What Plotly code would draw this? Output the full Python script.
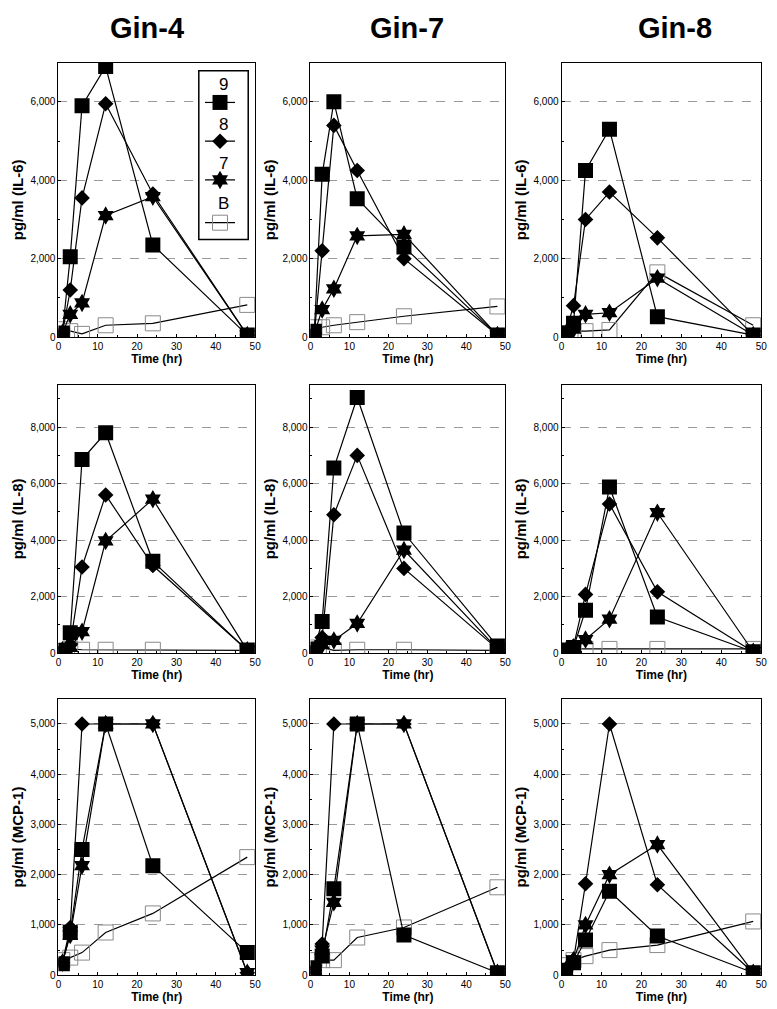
import plotly.graph_objects as go

# ---------------- data ----------------
times = [1, 3, 6, 12, 24, 48]
series_names = ["9", "8", "7", "B"]
gin_titles = ["Gin-4", "Gin-7", "Gin-8"]
row_titles = ["pg/ml (IL-6)", "pg/ml (IL-8)", "pg/ml (MCP-1)"]
x_ticks = [0, 10, 20, 30, 40, 50]

# IL-6
gin4_il6_9 = [100, 2050, 5900, 6900, 2350, 50]
gin4_il6_8 = [100, 1200, 3550, 5950, 3650, 50]
gin4_il6_7 = [100, 580, 870, 3100, 3580, 50]
gin4_il6_B = [200, 150, 80, 300, 350, 820]

gin7_il6_9 = [150, 4150, 6000, 3530, 2300, 50]
gin7_il6_8 = [100, 2200, 5400, 4250, 2000, 50]
gin7_il6_7 = [100, 700, 1230, 2580, 2620, 50]
gin7_il6_B = [250, 250, 300, 380, 530, 780]

gin8_il6_9 = [100, 350, 4250, 5300, 520, 50]
gin8_il6_8 = [100, 800, 3000, 3700, 2530, 50]
gin8_il6_7 = [50, 200, 580, 620, 1500, 50]
gin8_il6_B = [100, 150, 150, 180, 1650, 300]

# IL-8
gin4_il8_9 = [100, 720, 6850, 7800, 3250, 100]
gin4_il8_8 = [100, 300, 3050, 5600, 3100, 100]
gin4_il8_7 = [100, 200, 760, 3970, 5450, 100]
gin4_il8_B = [80, 150, 120, 120, 120, 100]

gin7_il8_9 = [150, 1120, 6550, 9050, 4250, 250]
gin7_il8_8 = [150, 550, 4900, 7000, 3000, 150]
gin7_il8_7 = [100, 300, 450, 1050, 3650, 150]
gin7_il8_B = [200, 200, 100, 120, 120, 100]

gin8_il8_9 = [100, 200, 1520, 5880, 1280, 50]
gin8_il8_8 = [100, 250, 2080, 5280, 2170, 50]
gin8_il8_7 = [50, 150, 480, 1200, 4970, 50]
gin8_il8_B = [100, 150, 150, 150, 150, 150]

# MCP-1
gin4_mcp_9 = [230, 850, 2500, 5000, 2180, 450]
gin4_mcp_8 = [250, 950, 5000, 5000, 5000, 50]
gin4_mcp_7 = [250, 800, 2180, 5000, 5000, 50]
gin4_mcp_B = [300, 350, 450, 850, 1230, 2350]

gin7_mcp_9 = [150, 380, 1720, 5000, 800, 50]
gin7_mcp_8 = [100, 620, 5000, 5000, 5000, 50]
gin7_mcp_7 = [100, 500, 1450, 5000, 5000, 50]
gin7_mcp_B = [300, 300, 300, 750, 950, 1750]

gin8_mcp_9 = [100, 250, 700, 1670, 780, 50]
gin8_mcp_8 = [100, 300, 1820, 5000, 1800, 50]
gin8_mcp_7 = [100, 300, 1000, 2000, 2600, 50]
gin8_mcp_B = [200, 300, 380, 500, 600, 1070]

panels = [
    [[gin4_il6_9, gin4_il6_8, gin4_il6_7, gin4_il6_B],
     [gin7_il6_9, gin7_il6_8, gin7_il6_7, gin7_il6_B],
     [gin8_il6_9, gin8_il6_8, gin8_il6_7, gin8_il6_B]],
    [[gin4_il8_9, gin4_il8_8, gin4_il8_7, gin4_il8_B],
     [gin7_il8_9, gin7_il8_8, gin7_il8_7, gin7_il8_B],
     [gin8_il8_9, gin8_il8_8, gin8_il8_7, gin8_il8_B]],
    [[gin4_mcp_9, gin4_mcp_8, gin4_mcp_7, gin4_mcp_B],
     [gin7_mcp_9, gin7_mcp_8, gin7_mcp_7, gin7_mcp_B],
     [gin8_mcp_9, gin8_mcp_8, gin8_mcp_7, gin8_mcp_B]],
]
y_max = [7000, 9500, 5500]
y_dtick = [2000, 2000, 1000]

# ---------------- layout geometry ----------------
W, H = 777, 1009
col_px = [(48, 247), (303, 500), (557, 759)]
row_px = [(55, 331), (379, 649), (695, 973)]

styles = {
    "9": dict(symbol="square", size=15, color="black", line=dict(width=0)),
    "8": dict(symbol="diamond", size=12, color="black", line=dict(width=0)),
    "7": dict(symbol="hexagram", size=14, color="black", line=dict(width=0)),
    "B": dict(symbol="square-open", size=15, color="#8a8a8a", line=dict(width=1)),
}
legend_ids = {"9": "legend", "8": "legend2", "7": "legend3", "B": "legend4"}

fig = go.Figure()
font_family = "Liberation Sans, Arial, sans-serif"

idx = 0
for r in range(3):
    for c in range(3):
        idx += 1
        suffix = "" if idx == 1 else str(idx)
        xa, ya = "x" + suffix, "y" + suffix
        data = panels[r][c]
        for k in [3, 2, 1, 0]:
            name = series_names[k]
            show = (idx == 1)
            fig.add_trace(go.Scatter(
                x=times, y=data[k], mode="lines+markers",
                line=dict(color="black", width=1.2),
                marker=styles[name],
                name="", showlegend=show, legend=legend_ids[name],
                xaxis=xa, yaxis=ya, hoverinfo="skip"))
        x0, x1 = col_px[c]
        y0, y1 = row_px[r]
        fig.layout["xaxis" + suffix] = dict(
            domain=[x0 / W, x1 / W], anchor=ya, range=[0, 50],
            tickvals=x_ticks, ticks="inside", ticklen=3, tickcolor="black",
            minor=dict(dtick=5, ticks="inside", ticklen=2, tickcolor="black"),
            showline=True, linecolor="black", linewidth=1, mirror=True,
            showgrid=False, zeroline=False,
            tickfont=dict(size=10, family=font_family, color="black"),
            title=dict(text="<b>Time (hr)</b>", standoff=2,
                       font=dict(size=12, family=font_family, color="black")),
        )
        fig.layout["yaxis" + suffix] = dict(
            domain=[1 - y1 / H, 1 - y0 / H], anchor=xa, range=[0, y_max[r]],
            dtick=y_dtick[r], tick0=0, tickformat=",d",
            ticks="inside", ticklen=3, tickcolor="black",
            minor=dict(dtick=y_dtick[r] / 2, ticks="inside", ticklen=2, tickcolor="black",
                       showgrid=False),
            showline=True, linecolor="black", linewidth=1, mirror=True,
            showgrid=True, gridcolor="#9a9a9a", griddash="dash", gridwidth=1,
            zeroline=False,
            tickfont=dict(size=10, family=font_family, color="black"),
            title=dict(text="<b>" + row_titles[r] + "</b>", standoff=3,
                       font=dict(size=15, family=font_family, color="black")),
        )

# column titles
title_x = [138, 401, 672]
for c in range(3):
    fig.add_annotation(text="<b>" + gin_titles[c] + "</b>", x=title_x[c] / W, y=1 - 20 / H,
                       xref="paper", yref="paper", showarrow=False, xanchor="center",
                       yanchor="middle",
                       font=dict(size=29, family="Liberation Sans Narrow, Arial Narrow, sans-serif",
                                 color="black"))

# legend box (panel 1 domain coordinates)
bx0, bx1, by0, by1 = 190, 240, 63, 233
px0, px1 = col_px[0]
py0, py1 = row_px[0]
fig.add_shape(type="rect", xref="x domain", yref="y domain",
              x0=(bx0 - px0) / (px1 - px0), x1=(bx1 - px0) / (px1 - px0),
              y0=(py1 - by1) / (py1 - py0), y1=(py1 - by0) / (py1 - py0),
              line=dict(color="black", width=1.5), fillcolor="white", layer="above")

legend_sym_px = [95, 134, 173, 216]
legend_lbl_px = [77, 117, 156, 197]
leg_cx = 214
for i, name in enumerate(series_names):
    key = legend_ids[name]
    fig.layout[key] = dict(
        x=leg_cx / W, y=1 - legend_sym_px[i] / H, xanchor="center", yanchor="middle",
        bgcolor="rgba(0,0,0,0)", borderwidth=0,
        font=dict(size=12, family=font_family, color="black"),
        itemwidth=30, tracegroupgap=0,
    )
    fig.add_annotation(text=name, x=(leg_cx + 1) / W, y=1 - legend_lbl_px[i] / H,
                       xref="paper", yref="paper", showarrow=False,
                       xanchor="center", yanchor="middle",
                       font=dict(size=17, family=font_family, color="black"))

fig.update_layout(
    width=W, height=H, margin=dict(l=0, r=0, t=0, b=0),
    paper_bgcolor="white", plot_bgcolor="white",
    font=dict(family=font_family, color="black"),
)

fig.write_html("out.html")
